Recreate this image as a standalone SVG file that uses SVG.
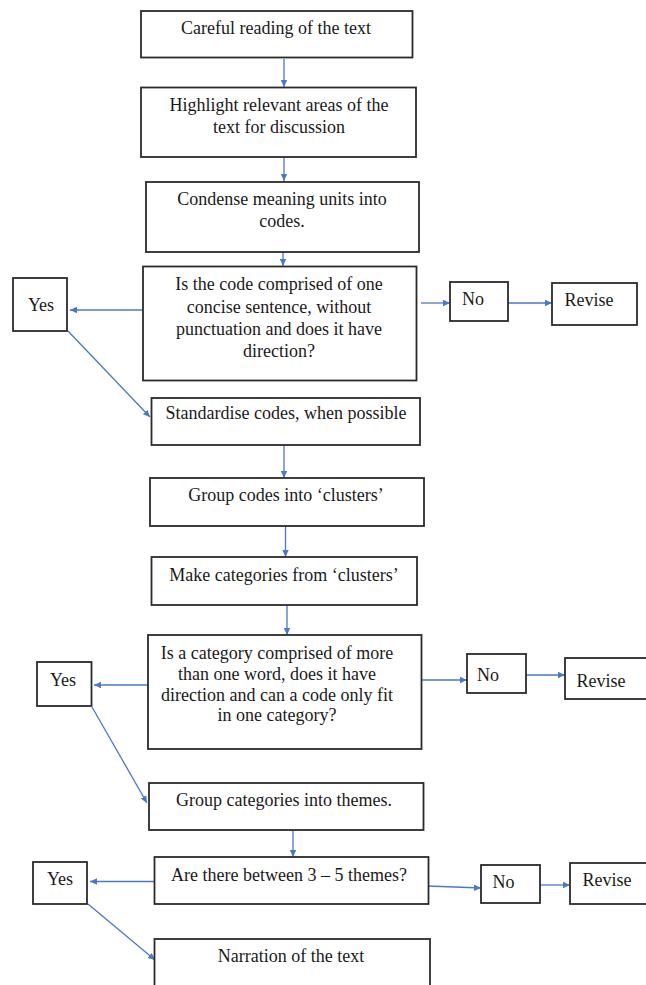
<svg xmlns="http://www.w3.org/2000/svg" width="646" height="985" viewBox="0 0 646 985">
<style>
.box{fill:#fff;stroke:#2b2b2b;stroke-width:1.8}
.t{font-family:"Liberation Serif","Times New Roman",serif;font-size:18px;fill:#1a1a1a;text-anchor:middle}
.c{fill:none;stroke:#4a78c8;stroke-width:1.3}
</style>
<defs>
<marker id="ah" markerWidth="8" markerHeight="8" refX="7" refY="4" orient="auto" markerUnits="userSpaceOnUse">
<path d="M0,0.8 L7,4 L0,7.2 Z" fill="#4a78c8"/>
</marker>
</defs>
<rect width="646" height="985" fill="#fff"/>
<g id="connectors">
<line class="c" x1="284" y1="59" x2="284" y2="87" marker-end="url(#ah)"/>
<line class="c" x1="284" y1="157" x2="284" y2="181" marker-end="url(#ah)"/>
<line class="c" x1="283" y1="237" x2="283" y2="266" marker-end="url(#ah)"/>
<line class="c" x1="143" y1="310" x2="70" y2="310" marker-end="url(#ah)"/>
<line class="c" x1="421" y1="303" x2="450" y2="303" marker-end="url(#ah)"/>
<line class="c" x1="508" y1="303" x2="552" y2="303" marker-end="url(#ah)"/>
<line class="c" x1="68" y1="331" x2="150" y2="417" marker-end="url(#ah)"/>
<line class="c" x1="284" y1="445" x2="284" y2="478" marker-end="url(#ah)"/>
<line class="c" x1="285.5" y1="526" x2="285.5" y2="557" marker-end="url(#ah)"/>
<line class="c" x1="287" y1="605" x2="287" y2="635" marker-end="url(#ah)"/>
<line class="c" x1="148" y1="685" x2="94" y2="685" marker-end="url(#ah)"/>
<line class="c" x1="421" y1="680" x2="467" y2="680" marker-end="url(#ah)"/>
<line class="c" x1="526" y1="675" x2="565" y2="675" marker-end="url(#ah)"/>
<line class="c" x1="92" y1="707" x2="147" y2="803" marker-end="url(#ah)"/>
<line class="c" x1="293" y1="830" x2="293" y2="857" marker-end="url(#ah)"/>
<line class="c" x1="154" y1="881.5" x2="90" y2="881.5" marker-end="url(#ah)"/>
<line class="c" x1="428" y1="886" x2="481" y2="888" marker-end="url(#ah)"/>
<line class="c" x1="540" y1="885" x2="570" y2="885" marker-end="url(#ah)"/>
<line class="c" x1="88" y1="904" x2="155" y2="960" marker-end="url(#ah)"/>
</g>
<g id="n1"><rect class="box" x="141" y="11" width="271.5" height="46.5"/><text class="t" x="276" y="33.5">Careful reading of the text</text></g>
<g id="n2"><rect class="box" x="141" y="87.5" width="275" height="69.5"/><text class="t" x="279" y="110.5">Highlight relevant areas of the</text><text class="t" x="279" y="133">text for discussion</text></g>
<g id="n3"><rect class="box" x="146" y="182" width="273" height="70"/><text class="t" x="282" y="205">Condense meaning units into</text><text class="t" x="282" y="226.5">codes.</text></g>
<g id="n4"><rect class="box" x="143" y="266.5" width="273.5" height="114"/><text class="t" x="279" y="290">Is the code comprised of one</text><text class="t" x="279" y="312.5">concise sentence, without</text><text class="t" x="279" y="334.5">punctuation and does it have</text><text class="t" x="279" y="356.5">direction?</text></g>
<g id="yes1"><rect class="box" x="13" y="278" width="54" height="53"/><text class="t" x="41" y="310.5">Yes</text></g>
<g id="no1"><rect class="box" x="450" y="282" width="58" height="39"/><text class="t" x="473" y="304.5">No</text></g>
<g id="rev1"><rect class="box" x="552" y="283" width="85" height="42"/><text class="t" x="589" y="306">Revise</text></g>
<g id="n5"><rect class="box" x="151.5" y="398" width="268.5" height="47"/><text class="t" x="286" y="419">Standardise codes, when possible</text></g>
<g id="n6"><rect class="box" x="150" y="478" width="274" height="48"/><text class="t" x="286" y="501">Group codes into ‘clusters’</text></g>
<g id="n7"><rect class="box" x="151.5" y="557" width="265.5" height="48"/><text class="t" x="284" y="581">Make categories from ‘clusters’</text></g>
<g id="n8"><rect class="box" x="148" y="635" width="273.5" height="114"/><text class="t" x="277" y="659">Is a category comprised of more</text><text class="t" x="277" y="680">than one word, does it have</text><text class="t" x="277" y="700.5">direction and can a code only fit</text><text class="t" x="277" y="721">in one category?</text></g>
<g id="yes2"><rect class="box" x="37" y="662" width="54.5" height="44"/><text class="t" x="63" y="686">Yes</text></g>
<g id="no2"><rect class="box" x="467" y="654" width="59" height="39"/><text class="t" x="488" y="681">No</text></g>
<g id="rev2"><rect class="box" x="565" y="658" width="90" height="41"/><text class="t" x="601" y="687">Revise</text></g>
<g id="n9"><rect class="box" x="149" y="783" width="274.5" height="47"/><text class="t" x="284" y="806">Group categories into themes.</text></g>
<g id="n10"><rect class="box" x="154.5" y="857" width="274" height="47"/><text class="t" x="289" y="881">Are there between 3 – 5 themes?</text></g>
<g id="yes3"><rect class="box" x="33" y="862" width="54" height="42"/><text class="t" x="60" y="885">Yes</text></g>
<g id="no3"><rect class="box" x="481" y="865" width="59" height="38"/><text class="t" x="503.5" y="888">No</text></g>
<g id="rev3"><rect class="box" x="570" y="863" width="90" height="41"/><text class="t" x="607" y="886">Revise</text></g>
<g id="n11"><rect class="box" x="154.5" y="939" width="275.5" height="60"/><text class="t" x="291" y="962">Narration of the text</text></g>
</svg>
